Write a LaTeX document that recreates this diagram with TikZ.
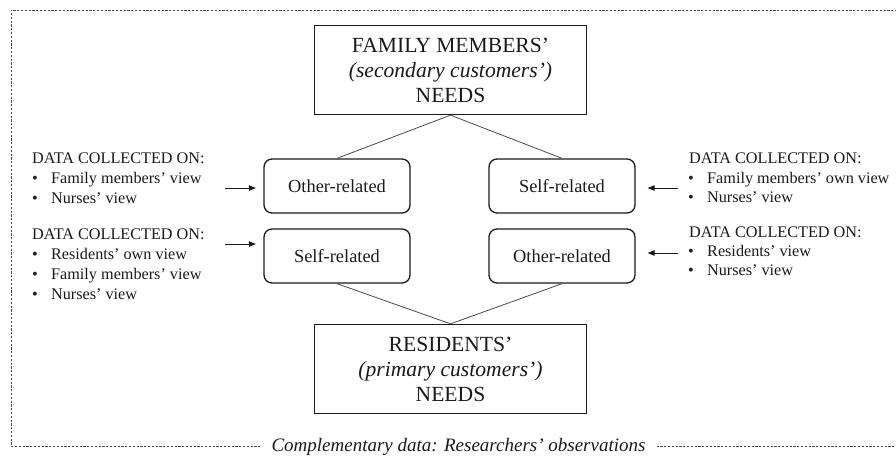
\documentclass[tikz,border=0pt]{standalone}
\usepackage{fontspec}
\setmainfont{Liberation Serif}
\usetikzlibrary{arrows.meta}
\definecolor{ink}{HTML}{1A1A1A}
\definecolor{linegray}{HTML}{4A4A4A}
\begin{document}
\begin{tikzpicture}[x=1pt,y=-1pt,
  bigbox/.style={draw=ink, line width=1.3pt, minimum width=272pt, minimum height=89pt, inner sep=0pt, align=center, text=ink, font=\fontsize{21.6}{25}\selectfont},
  smallbox/.style={draw=ink, line width=1.3pt, rounded corners=8pt, minimum width=146pt, minimum height=54pt, inner sep=0pt, text=ink, font=\fontsize{18.4}{22}\selectfont},
  datatxt/.style={anchor=base west, inner sep=0pt, text=ink, font=\fontsize{16.2}{20}\selectfont},
  link/.style={draw=linegray, line width=0.8pt},
  feed/.style={draw=ink, line width=0.9pt, -{Triangle[length=7pt,width=5.5pt]}},
  frame/.style={draw=linegray, line width=0.6pt, dash pattern=on 2.2pt off 1.6pt}
]
\useasboundingbox (0,0) rectangle (896,456);

% main boxes
\node[bigbox] (fam) at (450.5,70) {FAMILY MEMBERS'\\\textit{(secondary customers')}\\NEEDS};
\node[bigbox] (res) at (450.5,369) {RESIDENTS'\\\textit{(primary customers')}\\NEEDS};

\node[smallbox] (fo) at (337,186) {Other-related};
\node[smallbox] (fs) at (562,186) {Self-related};
\node[smallbox] (rs) at (337,256) {Self-related};
\node[smallbox] (ro) at (562,256) {Other-related};

\draw[link] (fam.south) -- (fo.north);
\draw[link] (fam.south) -- (fs.north);
\draw[link] (rs.south) -- (res.north);
\draw[link] (ro.south) -- (res.north);

% left top block
\node[datatxt] (lta) at (32,163) {DATA COLLECTED ON:};
\node[datatxt] (ltb) at (32,183) {\makebox[19pt][l]{\textbullet}Family members' view};
\node[datatxt] (ltc) at (32,203) {\makebox[19pt][l]{\textbullet}Nurses' view};
% left bottom block
\node[datatxt] (lba) at (32,239) {DATA COLLECTED ON:};
\node[datatxt] (lbb) at (32,259) {\makebox[19pt][l]{\textbullet}Residents' own view};
\node[datatxt] (lbc) at (32,279) {\makebox[19pt][l]{\textbullet}Family members' view};
\node[datatxt] (lbd) at (32,299) {\makebox[19pt][l]{\textbullet}Nurses' view};
% right top block
\node[datatxt] (rta) at (689,163) {DATA COLLECTED ON:};
\node[datatxt] (rtb) at (688,183) {\makebox[19pt][l]{\textbullet}Family members' own view};
\node[datatxt] (rtc) at (688,202) {\makebox[19pt][l]{\textbullet}Nurses' view};
% right bottom block
\node[datatxt] (rba) at (689,237) {DATA COLLECTED ON:};
\node[datatxt] (rbb) at (688,256) {\makebox[19pt][l]{\textbullet}Residents' view};
\node[datatxt] (rbc) at (688,275) {\makebox[19pt][l]{\textbullet}Nurses' view};

% feed arrows
\coordinate (alt) at (225,188);
\coordinate (alb) at (225,244);
\coordinate (art) at (678,188);
\coordinate (arb) at (678,253);
\draw[feed, shorten >=7.5pt] (alt) -- (alt -| fo.west);
\draw[feed, shorten >=7.5pt] (alb) -- (alb -| rs.west);
\draw[feed, shorten >=12pt] (art) -- (art -| fs.east);
\draw[feed, shorten >=12pt] (arb) -- (arb -| ro.east);

% dashed frame with caption
\node[inner xsep=11pt, inner ysep=0pt, text=ink, font=\fontsize{19}{22}\itshape] (cap) at (458.5,446.5) {Complementary data: Researchers' observations};
\coordinate (fbl) at (11,446);
\coordinate (ftl) at (11,10);
\coordinate (ftr) at (896,10);
\coordinate (fbr) at (896,446);
\draw[frame] (cap.west |- fbl) -- (fbl) -- (ftl) -- (ftr);
\draw[frame] (cap.east |- fbr) -- (fbr);
\end{tikzpicture}
\end{document}
